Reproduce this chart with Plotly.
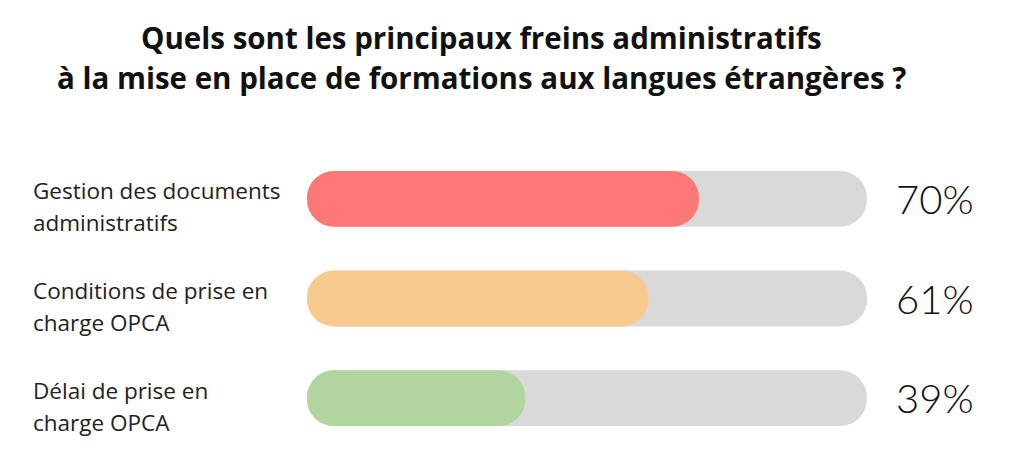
import plotly.graph_objects as go

# chart data
categories = ["Gestion des documents administratifs",
              "Conditions de prise en charge OPCA",
              "Délai de prise en charge OPCA"]
label_lines = [["Gestion des documents", "administratifs"],
               ["Conditions de prise en", "charge OPCA"],
               ["Délai de prise en", "charge OPCA"]]
values = [70, 61, 39]
colors = ["#FF7878", "#F8CA8E", "#B0D59E"]
title_lines = ["Quels sont les principaux freins administratifs",
               "à la mise en place de formations aux langues étrangères ?"]

# the page body has an 8px default margin, so everything is offset by 8
W, H = 1017, 452
L, T = 299, 141
PW, PH = 560, 299
R, B = W - L - PW, H - T - PH


def px_x(p):
    return (p - 8 - L) / PW


BAR_W = 0.56
fig = go.Figure()

# grey track (floating bars with a base get both ends rounded)
fig.add_trace(go.Bar(
    y=categories, x=[100] * 3, base=[0] * 3, orientation="h",
    width=BAR_W, marker=dict(color="#D9D9D9", cornerradius=28, line_width=0),
    hoverinfo="skip", showlegend=False))

fig.add_trace(go.Bar(
    y=categories, x=values, base=[0] * 3, orientation="h", width=BAR_W,
    marker=dict(color=colors, cornerradius=28, line_width=0), showlegend=False))

annotations = []
for cat, lines, v in zip(categories, label_lines, values):
    annotations.append(dict(
        x=100, y=cat, xref="x", yref="y", xshift=27, text=f"{v}%",
        xanchor="left", yanchor="middle", showarrow=False,
        font=dict(family="Lato", size=40, color="#111111", weight=300)))
    for i, line in enumerate(lines):
        annotations.append(dict(
            x=px_x(31), y=cat, xref="paper", yref="y", yshift=8 - 32 * i,
            text=line, xanchor="left", yanchor="middle", showarrow=False,
            font=dict(family="Open Sans", size=22.5, color="#222222")))

for i, line in enumerate(title_lines):
    annotations.append(dict(
        x=px_x(481), y=1, xref="paper", yref="paper", yshift=112 - 40 * i,
        text=f"<b>{line}</b>", xanchor="center", yanchor="middle", showarrow=False,
        font=dict(family="Open Sans", size=29.5, color="#111111")))

fig.update_layout(
    width=W, height=H, barmode="overlay",
    margin=dict(l=L, r=R, t=T, b=B),
    paper_bgcolor="white", plot_bgcolor="white",
    xaxis=dict(range=[0, 100], visible=False, fixedrange=True),
    yaxis=dict(range=[2.5, -0.5], visible=False, fixedrange=True),
    annotations=annotations,
)

fig.write_html("out.html", config={"displayModeBar": False})
